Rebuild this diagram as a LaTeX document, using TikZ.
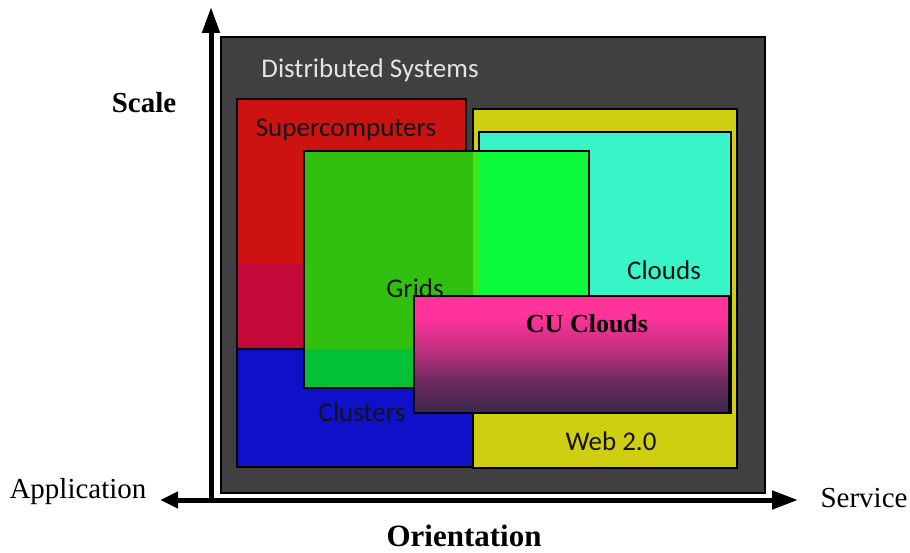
\documentclass[tikz,border=0pt]{standalone}
\usepackage{fontspec}
\setmainfont{Liberation Serif}
\newfontfamily\calfont{Carlito}
\usetikzlibrary{arrows.meta}

\definecolor{panelgray}{RGB}{64,64,64}
\definecolor{panelText}{RGB}{228,228,228}
\definecolor{superRed}{RGB}{205,18,18}
\definecolor{superCrimson}{RGB}{196,8,58}
\definecolor{clusterBlue}{RGB}{16,16,200}
\definecolor{webYellow}{RGB}{208,206,16}
\definecolor{cloudCyan}{RGB}{56,245,200}
\definecolor{gridOverRed}{RGB}{50,192,16}
\definecolor{gridOverBlue}{RGB}{4,194,56}
\definecolor{gridOverYellow}{RGB}{60,232,30}
\definecolor{gridBright}{RGB}{12,250,60}
\definecolor{cuTop}{RGB}{255,51,153}
\definecolor{cuMid}{RGB}{190,48,128}
\definecolor{cuLow}{RGB}{105,42,92}
\definecolor{cuBot}{RGB}{58,40,75}
\definecolor{labelInk}{RGB}{20,20,20}

% vertical pink-to-purple fade of the CU Clouds box
\pgfdeclareverticalshading{cufade}{100bp}{%
  color(0bp)=(cuBot); color(25bp)=(cuBot); color(38bp)=(cuLow);
  color(52bp)=(cuMid); color(66bp)=(cuTop); color(75bp)=(cuTop);
  color(100bp)=(cuTop)}

\begin{document}
\begin{tikzpicture}[x=1pt,y=-1pt,
  box/.style={draw=black,line width=2pt},
  lbl/.style={font=\calfont\fontsize{27}{30}\selectfont,text=labelInk,inner sep=0pt},
  ttl/.style={font=\bfseries\fontsize{29}{33}\selectfont,inner sep=0pt},
  plain/.style={font=\fontsize{29}{33}\selectfont,inner sep=0pt},
  axisline/.style={line width=5pt}]

\useasboundingbox (0,0) rectangle (910,553);

% outer panel
\draw[fill=panelgray,line width=1.5pt] (221,37) rectangle (765,493);
\node[lbl,text=panelText] (ds) at (370,70) {Distributed Systems};

% supercomputers
\fill[superRed] (237,99) rectangle (466,349);
\fill[superCrimson] (237,264) rectangle (466,349);
\draw[box] (237,99) rectangle (466,349);

% clusters
\draw[box,fill=clusterBlue] (237,349) rectangle (473,467);

% web 2.0
\draw[box,fill=webYellow] (473,109) rectangle (737,468);

% clouds
\draw[box,fill=cloudCyan] (479,132) rectangle (731,413);

% grids, tinted by what lies beneath
\fill[gridOverRed] (304,151) rectangle (473,349);
\fill[gridOverBlue] (304,349) rectangle (473,388);
\fill[gridOverYellow] (473,151) rectangle (479,388);
\fill[gridBright] (479,151) rectangle (589,388);
\draw[box] (304,151) rectangle (589,388);

% CU clouds
\draw[box,shading=cufade] (414,296) rectangle (729,413);

% box labels
\node[lbl] (sc) at (346,130) {Supercomputers};
\node[lbl] (gr) at (415,288) {Grids};
\node[lbl] (cl) at (664,270) {Clouds};
\node[lbl] (cs) at (362,412) {Clusters};
\node[lbl] (wb) at (611,441) {Web 2.0};
\node[font=\bfseries\fontsize{26}{30}\selectfont,inner sep=0pt] (cu) at (587,324) {CU Clouds};

% axes
\coordinate (origin) at (211,500);
\coordinate (ytip) at (211,7);
\coordinate (xtip) at (798,500);
\coordinate (xneg) at (160,500);
\draw[axisline,line cap=rect,-{Triangle[width=17pt,length=26pt]}] (origin) -- (ytip);
\draw[axisline,{Triangle[width=16pt,length=18pt]}-{Triangle[width=18pt,length=26pt]}] (xneg) -- (xtip);

% axis labels
\node[ttl] (scale) at (144,103) {Scale};
\node[plain] (app) at (78,492) {Application};
\node[plain] (svc) at (864,498) {Service};
\node[ttl,font=\bfseries\fontsize{31}{35}\selectfont] (orient) at (464,536) {Orientation};
\end{tikzpicture}
\end{document}
